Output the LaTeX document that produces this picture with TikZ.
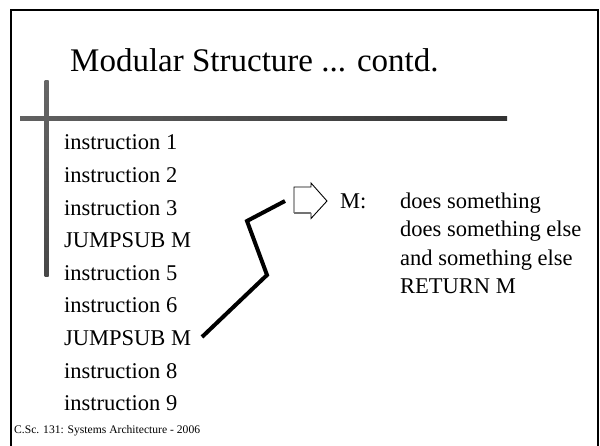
\documentclass[tikz,border=0pt]{standalone}
\usepackage{fontspec}
\setmainfont{Liberation Serif}
\begin{document}
\begin{tikzpicture}[x=1pt,y=-1pt,
  txt/.style={anchor=base west,inner sep=0pt,font=\fontsize{22.5}{27}\selectfont},
  ttl/.style={anchor=base west,inner sep=0pt,font=\fontsize{33}{40}\selectfont},
  foot/.style={anchor=base west,inner sep=0pt,font=\fontsize{11.6}{14}\selectfont},
  conn/.style={line width=4pt,black,line join=miter},
  frame/.style={line width=2pt,black}]
\useasboundingbox (0,0) rectangle (600,446);
% frame
\draw[frame] (11,447) -- (11,10) -- (598,10) -- (598,447);
% bars
\shade[left color=black!62,right color=black!80] (20,117) rectangle (507,121);
\shade[top color=black!60,bottom color=black!72] (44.5,81) rectangle (48.5,277);
% title
\node[ttl] (title) at (70,72) {Modular Structure ... contd.};
% instructions
\node[txt] (i1) at (64,150) {instruction 1};
\node[txt] (i2) at (64,182.6) {instruction 2};
\node[txt] (i3) at (64,215.2) {instruction 3};
\node[txt] (j1) at (64,247.8) {JUMPSUB M};
\node[txt] (i5) at (64,280.4) {instruction 5};
\node[txt] (i6) at (64,313) {instruction 6};
\node[txt] (j2) at (64,345.6) {JUMPSUB M};
\node[txt] (i8) at (64,378.2) {instruction 8};
\node[txt] (i9) at (64,410.8) {instruction 9};
% subroutine
\node[txt] (m) at (340,208.5) {M:};
\node[txt] (s1) at (400,208.5) {does something};
\node[txt] (s2) at (400,236.8) {does something else};
\node[txt] (s3) at (400,265.1) {and something else};
\node[txt] (s4) at (400,293.4) {RETURN M};
% block arrow
\draw[line width=0.9pt] (294,213) -- (294,187) -- (311,187) -- (311,183) -- (327,201) -- (311,218.5) -- (311,213);
\draw[line width=1.1pt,black!55] (311,213) -- (294,213);
% connector
\coordinate (p0) at (202,337);
\coordinate (p1) at (267,275);
\coordinate (p2) at (247,221);
\coordinate (p3) at (285,201);
\draw[conn] (p0) -- (p1) -- (p2) -- (p3);
% footer
\node[foot] (ft) at (14,433) {C.Sc. 131: Systems Architecture - 2006};
\end{tikzpicture}
\end{document}
